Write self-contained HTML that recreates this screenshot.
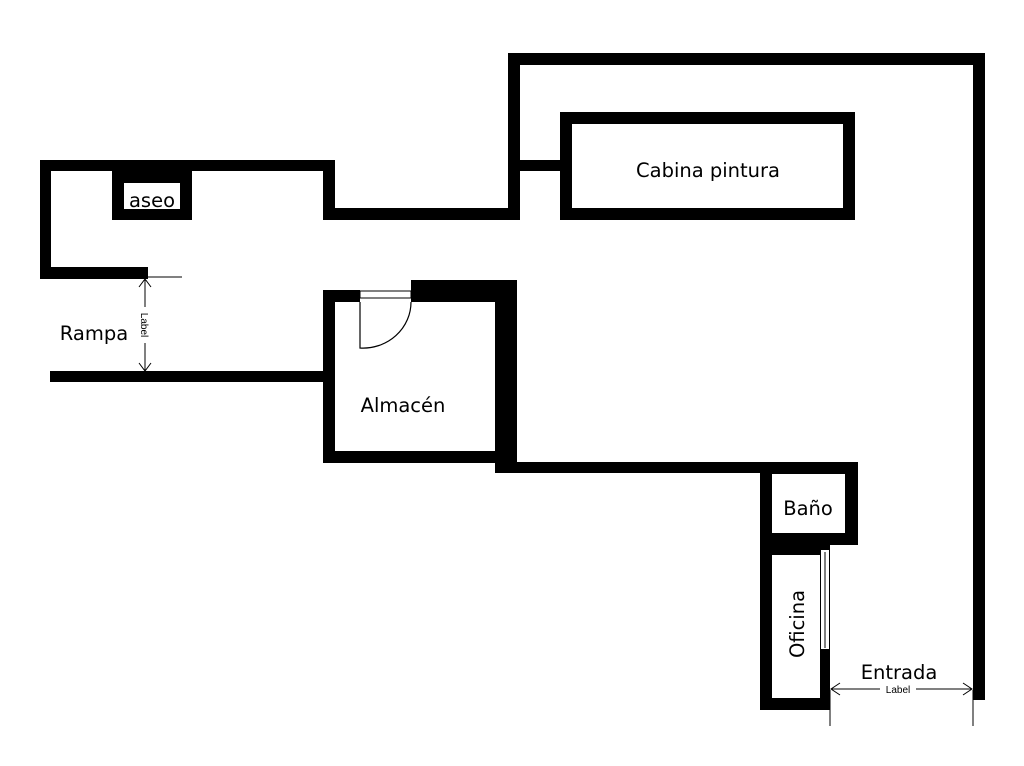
<!DOCTYPE html>
<html><head><meta charset="utf-8"><style>body{margin:0;background:#fff}svg{display:block}</style></head><body>
<svg width="1024" height="766" viewBox="0 0 1024 766" xmlns="http://www.w3.org/2000/svg" font-family="DejaVu Sans, Liberation Sans, sans-serif">
<rect width="1024" height="766" fill="#fff"/>
<g fill="#000">
<rect x="508" y="53" width="477" height="12"/>
<rect x="973" y="53" width="12" height="647"/>
<rect x="508" y="53" width="12" height="167"/>
<rect x="40" y="160" width="295" height="11"/>
<rect x="323" y="160" width="12" height="60"/>
<rect x="323" y="208" width="197" height="12"/>
<rect x="40" y="160" width="11" height="119"/>
<rect x="40" y="267" width="108" height="12"/>
<rect x="112" y="171" width="80" height="49"/>
<rect x="520" y="160" width="42" height="11"/>
<rect x="560" y="112" width="295" height="108"/>
<rect x="50" y="371" width="275" height="11"/>
<rect x="323" y="290" width="12" height="173"/>
<rect x="323" y="290" width="37" height="12"/>
<rect x="411" y="280" width="106" height="22"/>
<rect x="495" y="280" width="22" height="193"/>
<rect x="323" y="451" width="182" height="12"/>
<rect x="505" y="462" width="353" height="11"/>
<rect x="760" y="462" width="98" height="83"/>
<rect x="760" y="545" width="70" height="165"/>
</g>
<g fill="#fff">
<rect x="124" y="183" width="56" height="26"/>
<rect x="572" y="124" width="271" height="84"/>
<rect x="772" y="474" width="73" height="59"/>
<rect x="772" y="555" width="48" height="143"/>
<rect x="820" y="549" width="10" height="101"/>
</g>
<rect x="360" y="291" width="51" height="7" fill="#fff" stroke="#000" stroke-width="1"/>
<path d="M360 302 V348 A48 46 0 0 0 411 302" fill="none" stroke="#000" stroke-width="1.2"/>
<rect x="820.5" y="549.5" width="9" height="100" fill="#fff" stroke="#000" stroke-width="1"/>
<line x1="825" y1="552" x2="825" y2="648" stroke="#000" stroke-width="1"/>
<g stroke="#000" stroke-width="1" fill="none">
<line x1="148" y1="277" x2="182" y2="277"/>
<line x1="145" y1="280" x2="145" y2="371"/>
<path d="M139 287 L145 279 L151 287 M139 363 L145 371 L151 363"/>
<line x1="830" y1="690" x2="830" y2="726"/>
<line x1="973" y1="690" x2="973" y2="726"/>
<line x1="831" y1="689" x2="972" y2="689"/>
<path d="M840 683 L831 689 L840 695 M963 683 L972 689 L963 695"/>
</g>
<rect x="880" y="684" width="36" height="10" fill="#fff"/>
<text x="898" y="693" font-size="10" text-anchor="middle" font-family="Liberation Sans, sans-serif">Label</text>
<rect x="140" y="307" width="10" height="36" fill="#fff"/>
<text transform="translate(141,325) rotate(90)" font-size="10" text-anchor="middle" font-family="Liberation Sans, sans-serif">Label</text>
<g font-size="19.5" fill="#000">
<text x="152" y="207" text-anchor="middle">aseo</text>
<text x="708" y="177" text-anchor="middle">Cabina pintura</text>
<text x="94" y="340" text-anchor="middle">Rampa</text>
<text x="403" y="412" text-anchor="middle">Almacén</text>
<text x="808" y="515" text-anchor="middle">Baño</text>
<text x="899" y="679" text-anchor="middle">Entrada</text>
<text transform="translate(804,624) rotate(-90)" text-anchor="middle">Oficina</text>
</g>
</svg>
</body></html>
